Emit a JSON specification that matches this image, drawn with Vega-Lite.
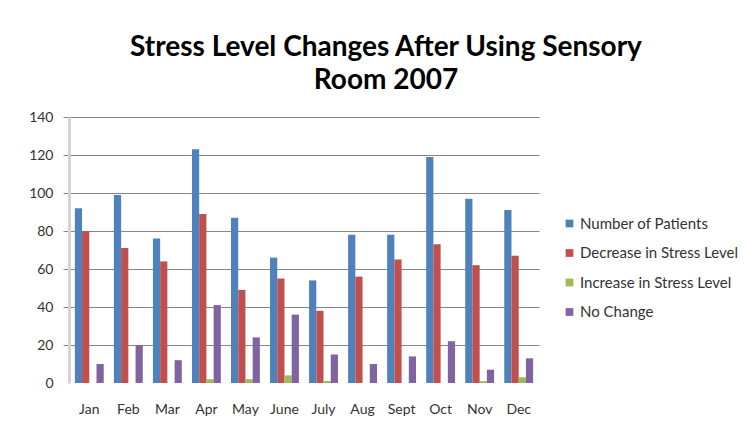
{
  "$schema": "https://vega.github.io/schema/vega-lite/v6.json",
  "width": 470,
  "height": 266,
  "autosize": {"type": "none"},
  "padding": {"left": 69, "top": 117, "right": 208, "bottom": 45},
  "background": "white",
  "title": {
    "text": ["Stress Level Changes After Using Sensory", "Room 2007"],
    "anchor": "middle",
    "frame": "group",
    "dx": 82,
    "offset": 15,
    "font": "Lato",
    "fontSize": 28,
    "fontWeight": "bold",
    "color": "#000000",
    "lineHeight": 33
  },
  "data": {
    "values": [
      {"month": "Jan", "series": "Number of Patients", "value": 92},
      {"month": "Jan", "series": "Decrease in Stress Level", "value": 80},
      {"month": "Jan", "series": "Increase in Stress Level", "value": 0},
      {"month": "Jan", "series": "No Change", "value": 10},
      {"month": "Feb", "series": "Number of Patients", "value": 99},
      {"month": "Feb", "series": "Decrease in Stress Level", "value": 71},
      {"month": "Feb", "series": "Increase in Stress Level", "value": 0},
      {"month": "Feb", "series": "No Change", "value": 20},
      {"month": "Mar", "series": "Number of Patients", "value": 76},
      {"month": "Mar", "series": "Decrease in Stress Level", "value": 64},
      {"month": "Mar", "series": "Increase in Stress Level", "value": 0},
      {"month": "Mar", "series": "No Change", "value": 12},
      {"month": "Apr", "series": "Number of Patients", "value": 123},
      {"month": "Apr", "series": "Decrease in Stress Level", "value": 89},
      {"month": "Apr", "series": "Increase in Stress Level", "value": 2},
      {"month": "Apr", "series": "No Change", "value": 41},
      {"month": "May", "series": "Number of Patients", "value": 87},
      {"month": "May", "series": "Decrease in Stress Level", "value": 49},
      {"month": "May", "series": "Increase in Stress Level", "value": 2},
      {"month": "May", "series": "No Change", "value": 24},
      {"month": "June", "series": "Number of Patients", "value": 66},
      {"month": "June", "series": "Decrease in Stress Level", "value": 55},
      {"month": "June", "series": "Increase in Stress Level", "value": 4},
      {"month": "June", "series": "No Change", "value": 36},
      {"month": "July", "series": "Number of Patients", "value": 54},
      {"month": "July", "series": "Decrease in Stress Level", "value": 38},
      {"month": "July", "series": "Increase in Stress Level", "value": 1},
      {"month": "July", "series": "No Change", "value": 15},
      {"month": "Aug", "series": "Number of Patients", "value": 78},
      {"month": "Aug", "series": "Decrease in Stress Level", "value": 56},
      {"month": "Aug", "series": "Increase in Stress Level", "value": 0},
      {"month": "Aug", "series": "No Change", "value": 10},
      {"month": "Sept", "series": "Number of Patients", "value": 78},
      {"month": "Sept", "series": "Decrease in Stress Level", "value": 65},
      {"month": "Sept", "series": "Increase in Stress Level", "value": 0},
      {"month": "Sept", "series": "No Change", "value": 14},
      {"month": "Oct", "series": "Number of Patients", "value": 119},
      {"month": "Oct", "series": "Decrease in Stress Level", "value": 73},
      {"month": "Oct", "series": "Increase in Stress Level", "value": 0},
      {"month": "Oct", "series": "No Change", "value": 22},
      {"month": "Nov", "series": "Number of Patients", "value": 97},
      {"month": "Nov", "series": "Decrease in Stress Level", "value": 62},
      {"month": "Nov", "series": "Increase in Stress Level", "value": 1},
      {"month": "Nov", "series": "No Change", "value": 7},
      {"month": "Dec", "series": "Number of Patients", "value": 91},
      {"month": "Dec", "series": "Decrease in Stress Level", "value": 67},
      {"month": "Dec", "series": "Increase in Stress Level", "value": 3},
      {"month": "Dec", "series": "No Change", "value": 13}
    ]
  },
  "mark": {"type": "bar"},
  "encoding": {
    "x": {
      "field": "month",
      "type": "nominal",
      "sort": ["Jan", "Feb", "Mar", "Apr", "May", "June", "July", "Aug", "Sept", "Oct", "Nov", "Dec"],
      "scale": {"paddingInner": 0.26, "paddingOuter": 0.15},
      "axis": {
        "title": null,
        "labelAngle": 0,
        "domain": false,
        "ticks": false,
        "labelPadding": 19,
        "labelFont": "Lato",
        "labelFontSize": 14,
        "labelColor": "#333333"
      }
    },
    "xOffset": {
      "field": "series",
      "type": "nominal",
      "sort": ["Number of Patients", "Decrease in Stress Level", "Increase in Stress Level", "No Change"]
    },
    "y": {
      "field": "value",
      "type": "quantitative",
      "scale": {"domain": [0, 140]},
      "axis": {
        "title": null,
        "values": [0, 20, 40, 60, 80, 100, 120, 140],
        "domainColor": "#d4d4d4",
        "domainWidth": 3,
        "gridColor": {"condition": {"test": "datum.value === 0", "value": "transparent"}, "value": "#868686"},
        "tickColor": {"condition": {"test": "datum.value === 0", "value": "transparent"}, "value": "#868686"},
        "tickSize": 6,
        "labelPadding": 10,
        "labelFont": "Lato",
        "labelFontSize": 14,
        "labelColor": "#333333"
      }
    },
    "color": {
      "field": "series",
      "type": "nominal",
      "sort": ["Number of Patients", "Decrease in Stress Level", "Increase in Stress Level", "No Change"],
      "scale": {
        "domain": ["Number of Patients", "Decrease in Stress Level", "Increase in Stress Level", "No Change"],
        "range": ["#4F81BD", "#C0504D", "#9BBB59", "#8064A2"]
      },
      "legend": {
        "title": null,
        "orient": "none",
        "legendX": 493,
        "legendY": 99,
        "symbolType": "square",
        "symbolSize": 60,
        "symbolStrokeWidth": 0,
        "rowPadding": 13.5,
        "labelFont": "Lato",
        "labelFontSize": 15,
        "labelColor": "#333333",
        "labelOffset": 3
      }
    }
  },
  "config": {
    "view": {"stroke": null}
  }
}
